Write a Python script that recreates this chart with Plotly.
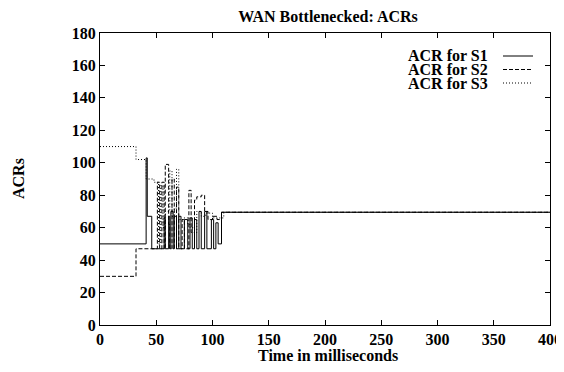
import plotly.graph_objects as go

# Step data (time in ms, ACR value)
s1_t = [0, 41, 42, 46, 56, 57, 58, 61, 62, 63, 65, 66, 68, 70, 72, 75, 78, 80, 82, 84, 86, 88, 90, 93, 95, 99, 101, 103, 105, 108, 400]
s1_v = [50, 103, 67, 47, 47, 66, 47, 67, 47, 70, 47, 67, 47, 67, 47, 65, 47, 66, 47, 65, 47, 70, 47, 70, 47, 65, 47, 63, 50, 69.5, 69.5]

s2_t = [0, 32, 51, 53, 55, 57, 58, 61, 62, 64, 66, 68, 70, 73, 75, 79, 81, 84, 86, 90, 93, 96, 100, 104, 108, 400]
s2_v = [30, 47, 88, 47, 88, 47, 99, 62, 47, 90, 47, 85, 47, 65, 47, 83, 57, 77, 79, 80, 70, 65, 67, 65, 69.5, 69.5]

s3_t = [0, 32, 41, 45, 48, 52, 54, 56, 58, 62, 64, 66, 68, 70, 74, 78, 80, 84, 86, 90, 94, 100, 106, 110, 400]
s3_v = [110, 102, 90, 90, 88, 50, 86, 60, 70, 95, 67, 72, 96, 65, 66, 62, 60, 57, 70, 67, 69, 66, 66, 69.5, 69.5]

names = ["ACR for S1", "ACR for S2", "ACR for S3"]
dashes = ["solid", "4px,2px", "1px,2px"]

x_ticks = [0, 50, 100, 150, 200, 250, 300, 350, 400]
y_ticks = [0, 20, 40, 60, 80, 100, 120, 140, 160, 180]

FONT = "Liberation Serif"
FS = 16

# figure geometry (page body adds an 8px offset)
W, H = 548, 356
L, R, T, B = 92, 6, 25, 39
PW, PH = W - L - R, H - T - B


def px(x):
    return (x - L) / PW


def py(y):
    return (H - B - y) / PH


fig = go.Figure()
for t, v, d, n in zip([s1_t, s2_t, s3_t], [s1_v, s2_v, s3_v], dashes, names):
    fig.add_trace(go.Scatter(x=t, y=v, mode="lines", name=n,
                             line=dict(color="black", width=1, dash=d, shape="hv"),
                             showlegend=False))

# manual legend (text left, sample right, gnuplot style)
for n, d, yy in zip(names, dashes, [48, 61.5, 75]):
    fig.add_annotation(xref="paper", yref="paper", x=px(482), y=py(yy), text="<b>" + n + "</b>",
                       showarrow=False, xanchor="right", yanchor="middle",
                       font=dict(family=FONT, size=FS, color="black"))
    fig.add_shape(type="line", xref="paper", yref="paper", x0=px(495), x1=px(525),
                  y0=py(yy), y1=py(yy), line=dict(color="black", width=1, dash=d))

# axis titles
fig.add_annotation(xref="paper", yref="paper", x=px(320), y=py(347), text="<b>Time in milliseconds</b>",
                   showarrow=False, xanchor="center", yanchor="middle",
                   font=dict(family=FONT, size=FS, color="black"))
fig.add_annotation(xref="paper", yref="paper", x=px(10), y=0.5, text="<b>ACRs</b>", textangle=-90,
                   showarrow=False, xanchor="center", yanchor="middle",
                   font=dict(family=FONT, size=FS, color="black"))

axis_common = dict(showline=True, linecolor="black", linewidth=1, mirror="ticks", ticks="inside", ticklen=5,
                   tickcolor="black", showgrid=False, zeroline=False, ticklabeloverflow="allow",
                   tickfont=dict(family=FONT, size=FS, color="black"))

fig.update_xaxes(range=[0, 400], tickvals=x_ticks, ticktext=["<b>%d</b>" % v for v in x_ticks], **axis_common)
fig.update_yaxes(range=[0, 180], tickvals=y_ticks, ticktext=["<b>%d</b>" % v for v in y_ticks], **axis_common)

fig.update_layout(
    width=W, height=H,
    margin=dict(l=L, r=R, t=T, b=B, autoexpand=False),
    paper_bgcolor="white", plot_bgcolor="white",
    title=dict(text="<b>WAN Bottlenecked: ACRs</b>", x=320 / W, xanchor="center", y=1 - 8 / H,
               yanchor="middle", font=dict(family=FONT, size=FS, color="black")),
)

fig.write_html("out.html")
